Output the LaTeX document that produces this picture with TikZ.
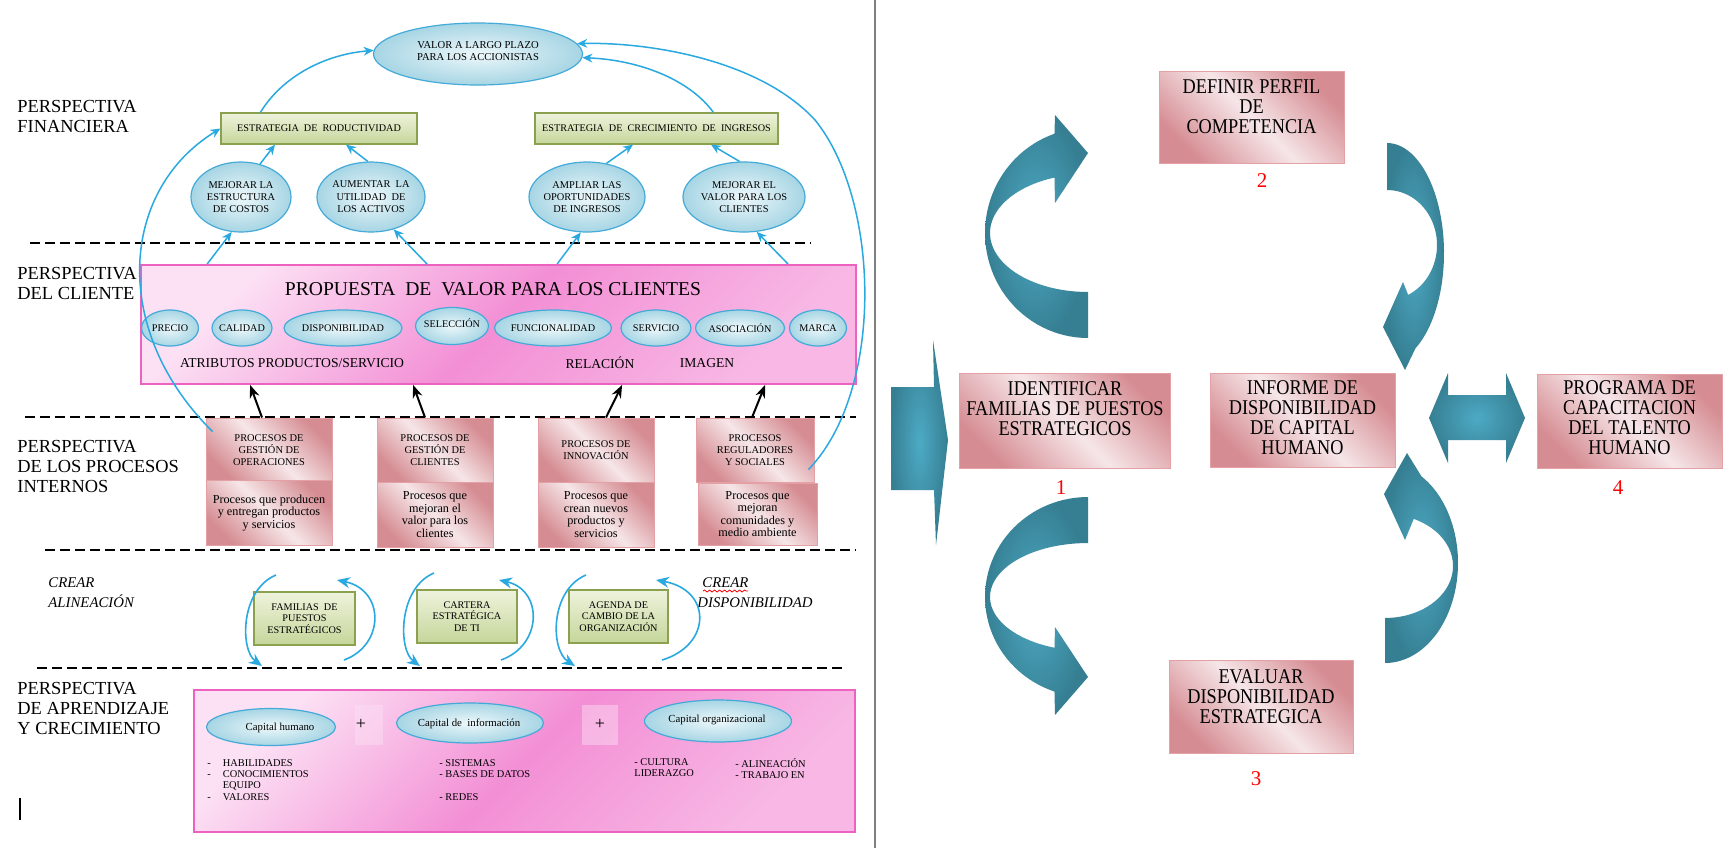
\documentclass[tikz,border=0pt]{standalone}
\usepackage{fontspec}
\setmainfont{Liberation Serif}
\newfontfamily\narrowserif{Liberation Serif}[FakeStretch=0.87]
\usetikzlibrary{arrows.meta,shapes.geometric,decorations.pathmorphing}
\definecolor{cblue}{HTML}{2AA9E0}
\definecolor{elin}{HTML}{EDF8FB}
\definecolor{elout}{HTML}{A7D5E4}
\definecolor{elbord}{HTML}{44AAD8}
\definecolor{grA}{HTML}{EEF3DC}
\definecolor{grB}{HTML}{C5D69A}
\definecolor{grbord}{HTML}{8CA150}
\definecolor{pkD}{HTML}{D58C92}
\definecolor{pkL}{HTML}{F6E6E8}
\definecolor{pkbord}{HTML}{E3A0A5}
\definecolor{mgA}{HTML}{FCE0F4}
\definecolor{mgB}{HTML}{F38FD5}
\definecolor{mgbord}{HTML}{EE62BF}
\definecolor{tlD}{HTML}{367F93}
\definecolor{tlL}{HTML}{4DAAC4}
\definecolor{divg}{HTML}{808080}
\newcommand\myfs[2]{\fontsize{#1}{#2}\selectfont}
\begin{document}
\begin{tikzpicture}[x=0.5pt,y=-0.5pt,
 persp/.style={anchor=north west, inner sep=0pt, align=left, font=\myfs{9.2}{10}},
 dashln/.style={line width=1pt, dash pattern=on 5pt off 2.5pt},
 bluearr/.style={draw=cblue, line width=0.75pt, -{Stealth[length=5pt,width=4.4pt]}},
 bigblue/.style={draw=cblue, line width=0.8pt, -{Stealth[length=6.5pt,width=5.5pt]}},
 blkarr/.style={draw=black, line width=1pt, -{Stealth[length=6.5pt,width=5pt]}},
 blueell/.style={ellipse, draw=elbord, line width=0.6pt, inner color=elin, outer color=elout, inner sep=0pt},
 greenbox/.style={rectangle, draw=grbord, line width=0.6pt, top color=grA, bottom color=grB, inner sep=0pt, align=center},
 rosebox/.style={rectangle, draw=pkbord, line width=0.5pt, top color=pkD, bottom color=pkD, middle color=pkL, shading angle=-45, inner sep=0pt, align=center},
 magbox/.style={rectangle, draw=mgbord, line width=0.9pt, top color=mgA, bottom color=mgA!50!mgB, middle color=mgB, shading angle=45, inner sep=0pt},
 tealarrow/.style={inner color=tlL, outer color=tlD},
 txt/.style={inner sep=0pt, align=center},
 rednum/.style={inner sep=0pt, text=red, font=\myfs{10.5}{11}},
 rtext/.style={inner sep=0pt, align=center, font=\narrowserif\myfs{10.5}{10}}
]
\useasboundingbox (0,0) rectangle (1729,848);
\fill[white] (0,0) rectangle (1729,848);

% ---------- dashed separators ----------
\draw[dashln] (30,243) -- (811,243);
\draw[dashln] (25,417) -- (856,417);
\draw[dashln] (45,550) -- (856,550);
\draw[dashln] (37,668) -- (845,668);

% ---------- perspective labels ----------
\node[persp] (pfin) at (17,100) {PERSPECTIVA\\FINANCIERA};
\node[persp] (pcli) at (17,267) {PERSPECTIVA\\DEL CLIENTE};
\node[persp] (ppro) at (17,440) {PERSPECTIVA\\DE LOS PROCESOS\\INTERNOS};
\node[persp] (papr) at (17,682) {PERSPECTIVA\\DE APRENDIZAJE\\Y CRECIMIENTO};

% ---------- financial ----------
\node[blueell, minimum width=104.5pt, minimum height=31pt] (top) at (478,54) {};
\node[txt, font=\myfs{5.3}{6}] (topt) at (478,51) {VALOR A LARGO PLAZO\\PARA LOS ACCIONISTAS};
\node[greenbox, minimum width=98pt, minimum height=15.5pt, font=\myfs{5.1}{6}] (gs1) at (319,128.5) {ESTRATEGIA\ \ DE\ \ RODUCTIVIDAD};
\node[greenbox, minimum width=121.5pt, minimum height=15.5pt, font=\myfs{5.1}{6}] (gs2) at (656.5,128.5) {ESTRATEGIA\ \ DE\ \ CRECIMIENTO\ \ DE\ \ INGRESOS};

\node[blueell, minimum width=50pt, minimum height=35pt] (c1) at (241,197) {};
\node[blueell, minimum width=54pt, minimum height=35pt] (c2) at (371,197) {};
\node[blueell, minimum width=58pt, minimum height=35pt] (c3) at (587,197) {};
\node[blueell, minimum width=61pt, minimum height=35pt] (c4) at (744,197) {};
\node[txt, font=\myfs{5.2}{6.2}] (c1t) at (241,197) {MEJORAR LA\\ESTRUCTURA\\DE COSTOS};
\node[txt, font=\myfs{5.2}{6.2}] (c2t) at (371,197) {AUMENTAR\ \ LA\\UTILIDAD\ \ DE\\LOS ACTIVOS};
\node[txt, font=\myfs{5.2}{6.2}] (c3t) at (587,197) {AMPLIAR LAS\\OPORTUNIDADES\\DE INGRESOS};
\node[txt, font=\myfs{5.2}{6.2}] (c4t) at (744,197) {MEJORAR EL\\VALOR PARA LOS\\CLIENTES};

% ---------- customer ----------
\node[magbox, minimum width=357.5pt, minimum height=59.5pt] (prop) at (498.5,324.5) {};
\node[txt, font=\myfs{9.8}{10}] (propt) at (493,289) {PROPUESTA\ \ DE\ \ VALOR PARA LOS CLIENTES};
\node[blueell, minimum width=28.5pt, minimum height=18pt] (e1) at (170,328) {};
\node[blueell, minimum width=30pt, minimum height=18pt] (e2) at (242,328) {};
\node[blueell, minimum width=59pt, minimum height=18pt] (e3) at (343,328) {};
\node[blueell, minimum width=36.5pt, minimum height=18.5pt] (e4) at (452,326) {};
\node[blueell, minimum width=58.5pt, minimum height=18pt] (e5) at (553,328) {};
\node[blueell, minimum width=35pt, minimum height=18pt] (e6) at (656,328) {};
\node[blueell, minimum width=44.5pt, minimum height=18pt] (e7) at (740,328) {};
\node[blueell, minimum width=28.5pt, minimum height=18pt] (e8) at (818,328) {};
\node[txt, font=\myfs{5.1}{6}] (e1t) at (e1) {PRECIO};
\node[txt, font=\myfs{5.1}{6}] (e2t) at (e2) {CALIDAD};
\node[txt, font=\myfs{5.1}{6}] (e3t) at (e3) {DISPONIBILIDAD};
\node[txt, font=\myfs{5.1}{6}] (e4t) at (452,323) {SELECCIÓN};
\node[txt, font=\myfs{5.1}{6}] (e5t) at (e5) {FUNCIONALIDAD};
\node[txt, font=\myfs{5.1}{6}] (e6t) at (e6) {SERVICIO};
\node[txt, font=\myfs{5.1}{6}] (e7t) at (e7) {ASOCIACIÓN};
\node[txt, font=\myfs{5.1}{6}] (e8t) at (e8) {MARCA};
\node[txt, font=\myfs{6.8}{7}] (atr) at (292,363) {ATRIBUTOS PRODUCTOS/SERVICIO};
\node[txt, font=\myfs{6.8}{7}] (rel) at (600,363) {RELACIÓN};
\node[txt, font=\myfs{6.8}{7}] (img) at (707,363) {IMAGEN};

% ---------- internal processes ----------
\node[rosebox, minimum width=63pt, minimum height=32pt, font=\myfs{5.2}{6}] (pb1u) at (269,450) {PROCESOS DE\\GESTIÓN DE\\OPERACIONES};
\node[rosebox, minimum width=63pt, minimum height=32.5pt, font=\myfs{6.1}{6.3}] (pb1l) at (269,513) {Procesos que producen\\y entregan productos\\y servicios};
\node[rosebox, minimum width=58pt, minimum height=32pt, font=\myfs{5.2}{6}] (pb2u) at (435,450) {PROCESOS DE\\GESTIÓN DE\\CLIENTES};
\node[rosebox, minimum width=58pt, minimum height=32.5pt, font=\myfs{6.1}{6.3}] (pb2l) at (435,514.5) {Procesos que\\mejoran el\\valor para los\\clientes};
\node[rosebox, minimum width=58pt, minimum height=32pt, font=\myfs{5.2}{6}] (pb3u) at (596,450) {PROCESOS DE\\INNOVACIÓN};
\node[rosebox, minimum width=58pt, minimum height=32.5pt, font=\myfs{6.1}{6.3}] (pb3l) at (596,514.5) {Procesos que\\crean nuevos\\productos y\\servicios};
\node[rosebox, minimum width=59pt, minimum height=32pt, font=\myfs{5.2}{6}] (pb4u) at (755,450) {PROCESOS\\REGULADORES\\Y SOCIALES};
\node[rosebox, minimum width=59.5pt, minimum height=31pt, font=\myfs{6.1}{6.3}] (pb4l) at (757.5,514) {Procesos que\\mejoran\\comunidades y\\medio ambiente};

% ---------- alignment row ----------
\node[anchor=north west, inner sep=0pt, align=left, font=\itshape\myfs{7.4}{10}] (crA) at (48,577) {CREAR\\ALINEACIÓN};
\node[anchor=north west, inner sep=0pt, align=left, font=\itshape\myfs{7.4}{10}] (crD) at (697,577) {\hspace*{2.5pt}CREAR\\DISPONIBILIDAD};
\draw[red, line width=0.4pt, decorate, decoration={snake, amplitude=0.5pt, segment length=2.5pt}] (703,591) -- (748,591);
\node[greenbox, minimum width=50.5pt, minimum height=26.5pt, font=\myfs{5.1}{5.6}] (fb1) at (304.5,618.5) {FAMILIAS\ \ DE\\PUESTOS\\ESTRATÉGICOS};
\node[greenbox, minimum width=50pt, minimum height=26.5pt, font=\myfs{5.1}{5.6}] (fb2) at (467,616.5) {CARTERA\\ESTRATÉGICA\\DE TI};
\node[greenbox, minimum width=49.5pt, minimum height=26.5pt, font=\myfs{5.1}{5.6}] (fb3) at (618.5,616.5) {AGENDA DE\\CAMBIO DE LA\\ORGANIZACIÓN};
\coordinate (a1s) at (276,575); \coordinate (a1e) at (262,666);
\coordinate (a2s) at (344,660); \coordinate (a2e) at (337,580);
\coordinate (a3s) at (434,573); \coordinate (a3e) at (420,666);
\coordinate (a4s) at (501,660); \coordinate (a4e) at (499,580);
\coordinate (a5s) at (586,575); \coordinate (a5e) at (575,666);
\coordinate (a6s) at (662,660); \coordinate (a6e) at (656,580);
\draw[bigblue] (a1s) .. controls (240,590) and (240,650) .. (a1e);
\draw[bigblue] (a2s) .. controls (385,645) and (385,590) .. (a2e);
\draw[bigblue] (a3s) .. controls (398,588) and (398,650) .. (a3e);
\draw[bigblue] (a4s) .. controls (543,645) and (543,590) .. (a4e);
\draw[bigblue] (a5s) .. controls (550,590) and (550,650) .. (a5e);
\draw[bigblue] (a6s) .. controls (712,645) and (712,590) .. (a6e);

% ---------- learning ----------
\node[magbox, minimum width=330.5pt, minimum height=71pt] (apr) at (524.5,761) {};
\fill[mgA, opacity=0.45] (355,705) rectangle (383,745);
\fill[mgA, opacity=0.45] (582,705) rectangle (618,745);
\node[blueell, minimum width=64.5pt, minimum height=18.5pt] (ch) at (271,727) {};
\node[blueell, minimum width=73.5pt, minimum height=20pt] (ci) at (470,723) {};
\node[blueell, minimum width=73.5pt, minimum height=21pt] (co) at (718,721) {};
\node[txt, font=\myfs{5.4}{6}] (cht) at (280,728) {Capital humano};
\node[txt, font=\myfs{5.4}{6}] (cit) at (469,724) {Capital de\ \ información};
\node[txt, font=\myfs{5.4}{6}] (cot) at (717,720) {Capital organizacional};
\node[txt, font=\myfs{9}{9}] (pl1) at (361,724) {+};
\node[txt, font=\myfs{9}{9}] (pl2) at (600,724) {+};
\node[anchor=north west, inner sep=0pt, align=left, font=\myfs{5.2}{5.65}] (lst1) at (207,759) {-\hspace{6pt}HABILIDADES\\-\hspace{6pt}CONOCIMIENTOS\\\hphantom{-\hspace{6pt}}EQUIPO\\-\hspace{6pt}VALORES};
\node[anchor=north west, inner sep=0pt, align=left, font=\myfs{5.2}{5.65}] (lst2) at (439,759) {- SISTEMAS\\- BASES DE DATOS\\\mbox{}\\- REDES};
\node[anchor=north west, inner sep=0pt, align=left, font=\myfs{5.2}{5.65}] (lst3) at (634,758) {- CULTURA\\LIDERAZGO};
\node[anchor=north west, inner sep=0pt, align=left, font=\myfs{5.2}{5.65}] (lst4) at (735,758) {- ALINEACIÓN\\- TRABAJO EN};
\draw[line width=1.2pt] (20,798) -- (20,820);

% ---------- blue connectors ----------
\draw[bluearr] ([xshift=20pt]gs1.north west) .. controls (280,80) and (320,55) .. (top.178);
\draw[bluearr] ([xshift=89.5pt]gs2.north west) .. controls (690,80) and (640,60) .. (top.-2);
\draw[bluearr] ([xshift=-3pt,yshift=-26pt]pb4u.north east) .. controls (885,390) and (880,200) .. (815,120) .. controls (760,60) and (650,42) .. (top.6);
\draw[bluearr] ([xshift=3.5pt,yshift=-7pt]pb1u.north west) .. controls (110,330) and (120,190) .. (gs1.west);
\draw[bluearr] (c1.60) -- ([xshift=-22pt]gs1.south);
\draw[bluearr] (c2.95) -- ([xshift=13.5pt]gs1.south);
\draw[bluearr] (c3.60) -- ([xshift=-11.75pt]gs2.south);
\draw[bluearr] (c4.97) -- ([xshift=27.25pt]gs2.south);
\draw[bluearr] ([xshift=33.5pt]prop.north west) -- (c1.255);
\draw[bluearr] ([xshift=143.5pt]prop.north west) -- (c2.305);
\draw[bluearr] ([xshift=208.5pt]prop.north west) -- (c3.260);
\draw[bluearr] ([xshift=324pt]prop.north west) -- (c4.290);

% ---------- black arrows ----------
\draw[blkarr] ([xshift=-3.5pt]pb1u.north) -- ([xshift=55pt]prop.south west);
\draw[blkarr] ([xshift=-5pt]pb2u.north) -- ([xshift=136.5pt]prop.south west);
\draw[blkarr] ([xshift=5pt]pb3u.north) -- ([xshift=241pt]prop.south west);
\draw[blkarr] ([xshift=-1.5pt]pb4u.north) -- ([xshift=312.5pt]prop.south west);

% ---------- divider ----------
\draw[divg, line width=1.2pt] (875,0) -- (875,848);

% ---------- right panel ----------
\node[rosebox, minimum width=92.5pt, minimum height=46pt] (r2) at (1251.5,117) {};
\node[rtext] (r2t) at (1251.5,107) {DEFINIR PERFIL\\DE\\COMPETENCIA};
\node[rednum] (n2) at (1262,181) {2};
\node[rosebox, minimum width=105.5pt, minimum height=47.5pt] (r1) at (1064.5,420.5) {};
\node[rtext] (r1t) at (1065,409) {IDENTIFICAR\\FAMILIAS DE PUESTOS\\ESTRATEGICOS};
\node[rednum] (n1) at (1061,488) {1};
\node[rosebox, minimum width=92.5pt, minimum height=47pt] (ri) at (1302.5,420) {};
\node[rtext] (rit) at (1302.5,418) {INFORME DE\\DISPONIBILIDAD\\DE CAPITAL\\HUMANO};
\node[rosebox, minimum width=92.5pt, minimum height=47pt] (r4) at (1629.5,421) {};
\node[rtext] (r4t) at (1629.5,418) {PROGRAMA DE\\CAPACITACION\\DEL TALENTO\\HUMANO};
\node[rednum] (n4) at (1618,488) {4};
\node[rosebox, minimum width=92pt, minimum height=46.5pt] (r3) at (1261,706.5) {};
\node[rtext] (r3t) at (1261,697) {EVALUAR\\DISPONIBILIDAD\\ESTRATEGICA};
\node[rednum] (n3) at (1256,779) {3};

% teal arrows
\shade[tealarrow] plot[domain=90:251, samples=50] ({1088+103*cos(\x)},{233+105*sin(\x)}) -- (1055,115) -- (1088,153) -- (1055,203) -- plot[domain=250:90, samples=50] ({1088+98*cos(\x)},{233+59*sin(\x)}) -- cycle;
\shade[tealarrow] plot[domain=-90:-251, samples=50] ({1088+103*cos(\x)},{597+100*sin(\x)}) -- (1055,715) -- (1088,677) -- (1055,627) -- plot[domain=-250:-90, samples=50] ({1088+98*cos(\x)},{597+54*sin(\x)}) -- cycle;
\shade[tealarrow] plot[domain=270:420, samples=50] ({1387+57*cos(\x)},{253+110*sin(\x)}) -- (1405,370) -- (1383,327) -- (1403,282) -- plot[domain=425:270, samples=50] ({1387+50*cos(\x)},{245+55*sin(\x)}) -- cycle;
\shade[tealarrow] plot[domain=90:-60, samples=50] ({1385+73*cos(\x)},{563+100*sin(\x)}) -- (1407,453) -- (1384,494) -- (1405,540) -- plot[domain=-65:90, samples=50] ({1385+68*cos(\x)},{566+52*sin(\x)}) -- cycle;
\shade[tealarrow] (891,387) -- (934,387) -- (933,340) -- (948,440) -- (936,545) -- (934,490) -- (891,490) -- cycle;
\shade[tealarrow] (1429,418) -- (1448,373) -- (1448,395) -- (1506,395) -- (1506,373) -- (1525,418) -- (1506,463) -- (1506,440) -- (1448,440) -- (1448,463) -- cycle;
\end{tikzpicture}
\end{document}
